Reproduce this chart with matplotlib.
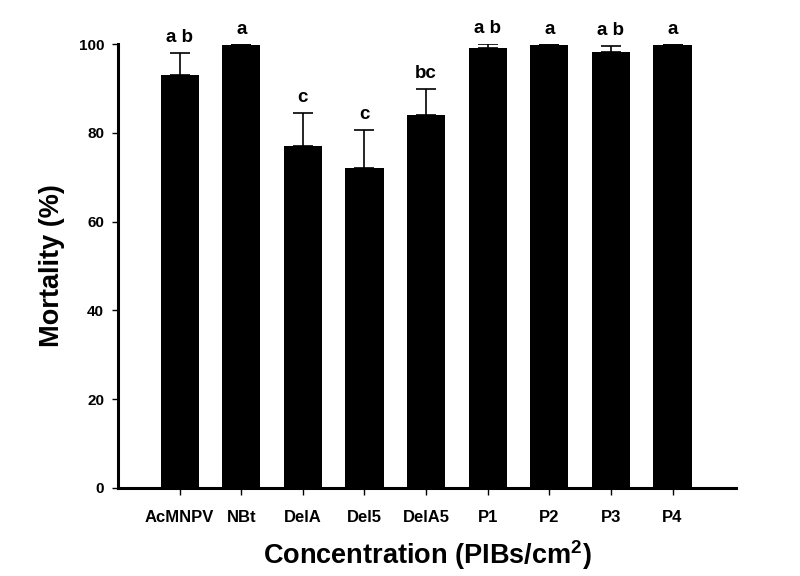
import matplotlib
matplotlib.use("Agg")
import matplotlib.pyplot as plt
import numpy as np

plt.rcParams['font.family'] = ['Liberation Sans', 'DejaVu Sans']
plt.rcParams['font.weight'] = 'bold'
plt.rcParams['mathtext.fontset'] = 'custom'
plt.rcParams['mathtext.bf'] = 'Liberation Sans:bold'

treatments = ["AcMNPV", "NBt", "DelA", "Del5", "DelA5", "P1", "P2", "P3", "P4"]
mortality = [93.0, 99.8, 77.0, 72.1, 84.0, 99.0, 99.8, 98.1, 99.8]
std_err = [4.9, 0.0, 7.4, 8.5, 5.8, 1.1, 0.0, 1.4, 0.0]
letters = ["a b", "a", "c", "c", "bc", "a b", "a", "a b", "a"]

fig = plt.figure(figsize=(8, 5.76), dpi=100)
ax = fig.add_axes([0.1475, 0.1528, 0.7725, 0.7708])

x = np.arange(len(treatments))
ax.bar(x, mortality, width=0.62, color="black", zorder=2)
ax.errorbar(x, mortality, yerr=[np.zeros(len(x)), std_err], fmt="none",
            ecolor="black", elinewidth=1.2, capsize=7, capthick=1.2, zorder=1)

for xi, m, e, lab in zip(x, mortality, std_err, letters):
    ax.annotate(lab, xy=(xi, m + e), xytext=(0, 5), textcoords="offset points",
                ha="center", va="bottom", fontsize=13.5, fontweight="bold")

ax.set_xlim(-1.0, 9.03)
ax.set_ylim(0, 100)
ax.set_yticks([0, 20, 40, 60, 80, 100])
ax.set_xticks(x)
ax.set_xticklabels(treatments, fontsize=12, fontweight="bold")
ax.tick_params(axis="y", labelsize=11, length=4, width=1, pad=6, direction="out")
ax.tick_params(axis="x", length=5, width=1, pad=11, direction="out")
for lbl in ax.get_yticklabels():
    lbl.set_fontweight("bold")

ax.spines["top"].set_visible(False)
ax.spines["right"].set_visible(False)
ax.spines["left"].set_linewidth(2.2)
ax.spines["bottom"].set_linewidth(2.2)

ax.set_ylabel("Mortality (%)", fontsize=19.5, fontweight="bold", labelpad=10)
ax.set_xlabel("Concentration (PIBs/cm$^{\\mathbf{2}}$)", fontsize=19.5,
              fontweight="bold", labelpad=9)

fig.savefig("out.png", dpi=100)
